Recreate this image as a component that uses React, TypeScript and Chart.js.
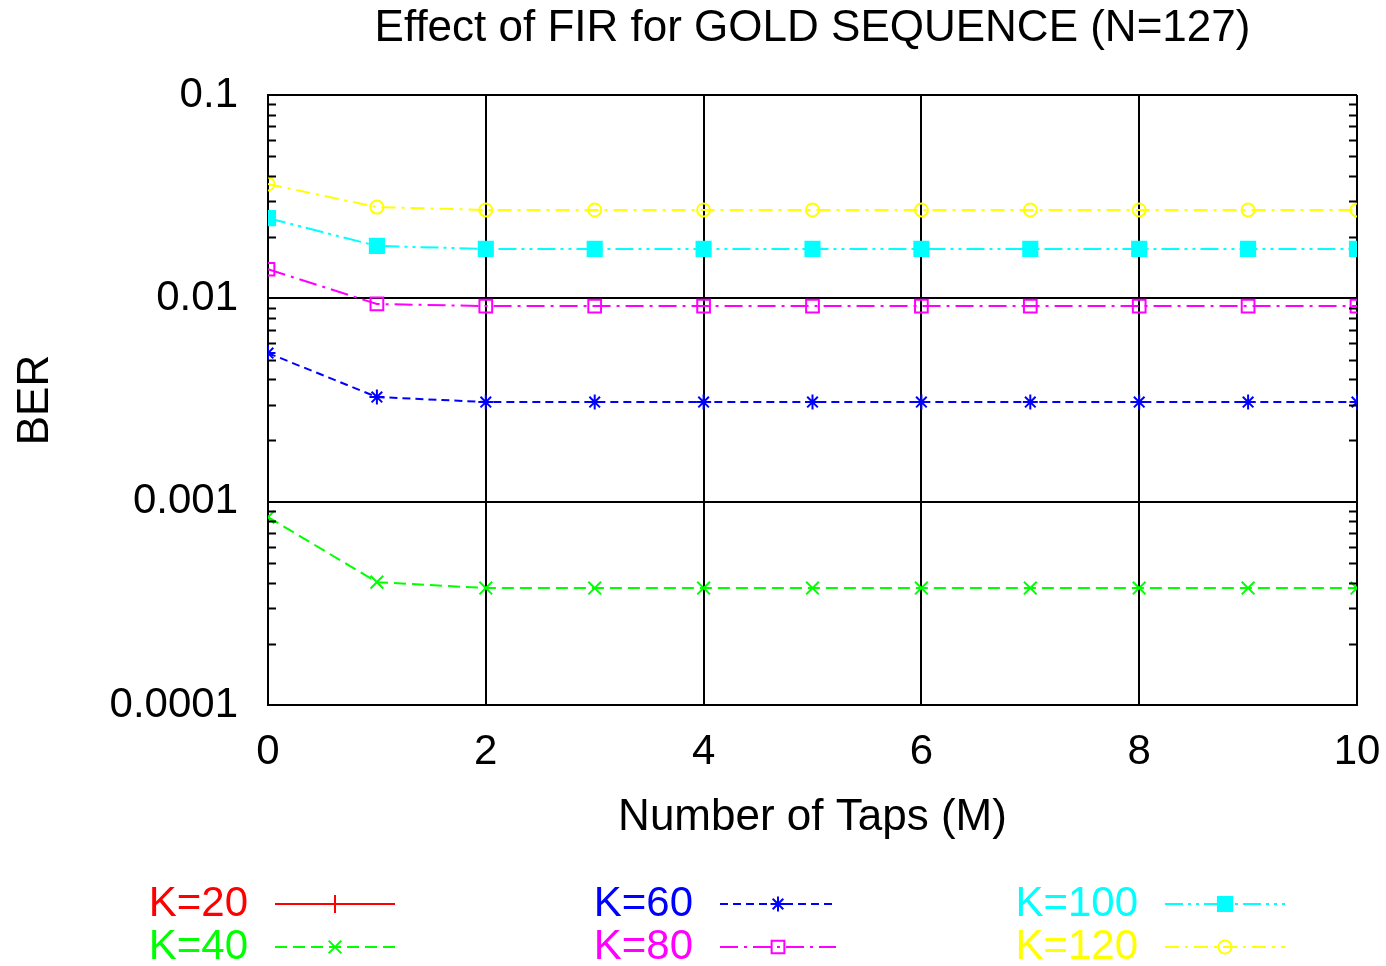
import React, { useEffect, useRef } from 'react';
import { Chart, registerables } from 'chart.js';
import { drawPoint } from 'chart.js/helpers';

Chart.register(...registerables);

const taps = [0, 1, 2, 3, 4, 5, 6, 7, 8, 9, 10];
const seriesLabels = ['K=20', 'K=40', 'K=60', 'K=80', 'K=100', 'K=120'];
// K=20 falls below the plotted range (not visible in the reference)
const berK20: (number | null)[] = [null, null, null, null, null, null, null, null, null, null, null];
const berK40 = [0.00084, 0.000402, 0.000376, 0.000376, 0.000376, 0.000376, 0.000376, 0.000376, 0.000376, 0.000376, 0.000376];
const berK60 = [0.00538, 0.00327, 0.00309, 0.00309, 0.00309, 0.00309, 0.00309, 0.00309, 0.00309, 0.00309, 0.00309];
const berK80 = [0.0139, 0.00938, 0.00916, 0.00916, 0.00916, 0.00916, 0.00916, 0.00916, 0.00916, 0.00916, 0.00916];
const berK100 = [0.0248, 0.0181, 0.0175, 0.0175, 0.0175, 0.0175, 0.0175, 0.0175, 0.0175, 0.0175, 0.0175];
const berK120 = [0.0365, 0.0281, 0.0272, 0.0272, 0.0272, 0.0272, 0.0272, 0.0272, 0.0272, 0.0272, 0.0272];
const yTickValues = [0.0001, 0.001, 0.01, 0.1];
const yTickLabels = ['0.0001', '0.001', '0.01', '0.1'];
const xTickStep = 2;

const titleText = 'Effect of FIR for GOLD SEQUENCE (N=127)';
const xTitle = 'Number of Taps (M)';
const yTitle = 'BER';

const FONT = '"Liberation Sans", Arial, Helvetica, sans-serif';

const styles = [
  { color: '#ff0000', dash: [] as number[], pointStyle: 'cross', radius: 9, fill: 'rgba(0,0,0,0)' },
  { color: '#00ff00', dash: [12, 6], pointStyle: 'crossRot', radius: 9, fill: 'rgba(0,0,0,0)' },
  { color: '#0000ff', dash: [8, 5], pointStyle: 'star', radius: 7.5, fill: 'rgba(0,0,0,0)' },
  { color: '#ff00ff', dash: [18, 6, 3, 6], pointStyle: 'rect', radius: 9, fill: 'rgba(0,0,0,0)' },
  { color: '#00ffff', dash: [18, 5, 3, 5, 3, 5], pointStyle: 'rect', radius: 10, fill: '#00ffff' },
  { color: '#ffff00', dash: [14, 6, 3, 6], pointStyle: 'circle', radius: 6.5, fill: 'rgba(0,0,0,0)' },
];
const seriesData = [berK20, berK40, berK60, berK80, berK100, berK120];

const isDecade = (v: number) => Math.abs(Math.log10(v) - Math.round(Math.log10(v))) < 1e-6;

const decorPlugin = {
  id: 'decor',
  afterDraw(chart: any) {
    const ctx: CanvasRenderingContext2D = chart.ctx;
    const area = chart.chartArea;
    const ys = chart.scales.y;
    ctx.save();
    // minor log ticks on left and right
    ctx.strokeStyle = '#000';
    ctx.lineWidth = 2;
    ctx.setLineDash([]);
    for (let d = -4; d < -1; d++) {
      for (let m = 2; m <= 9; m++) {
        const py = Math.round(ys.getPixelForValue(m * Math.pow(10, d))) + 0.5;
        ctx.beginPath();
        ctx.moveTo(area.left, py);
        ctx.lineTo(area.left + 8, py);
        ctx.moveTo(area.right, py);
        ctx.lineTo(area.right - 8, py);
        ctx.stroke();
      }
    }
    // titles
    ctx.fillStyle = '#000';
    ctx.font = `44px ${FONT}`;
    ctx.textAlign = 'center';
    ctx.textBaseline = 'middle';
    ctx.fillText(titleText, (area.left + area.right) / 2, 29);
    ctx.fillText(xTitle, (area.left + area.right) / 2, 818);
    ctx.save();
    ctx.translate(36, (area.top + area.bottom) / 2);
    ctx.rotate(-Math.PI / 2);
    ctx.fillText(yTitle, 0, 0);
    ctx.restore();
    // legend
    const cols = [
      { textRight: 248, x1: 275, x2: 395 },
      { textRight: 693, x1: 720, x2: 836 },
      { textRight: 1138, x1: 1165, x2: 1285 },
    ];
    const rows = [904, 947];
    seriesLabels.forEach((lab, i) => {
      const c = cols[Math.floor(i / 2)];
      const y = rows[i % 2];
      const st = styles[i];
      ctx.font = `42px ${FONT}`;
      ctx.textAlign = 'right';
      ctx.textBaseline = 'middle';
      ctx.fillStyle = st.color;
      ctx.fillText(lab, c.textRight, y);
      ctx.strokeStyle = st.color;
      ctx.lineWidth = 2;
      ctx.setLineDash(st.dash);
      ctx.beginPath();
      ctx.moveTo(c.x1, y);
      ctx.lineTo(c.x2, y);
      ctx.stroke();
      ctx.setLineDash([]);
      ctx.fillStyle = st.fill;
      drawPoint(ctx, { pointStyle: st.pointStyle as any, radius: st.radius, rotation: 0, borderWidth: 2 }, (c.x1 + c.x2) / 2, y);
    });
    ctx.restore();
  },
};

export default function App() {
  const ref = useRef<HTMLCanvasElement>(null);
  useEffect(() => {
    document.body.style.margin = '0';
    const canvas = ref.current!;
    const chart = new Chart(canvas, {
      type: 'line',
      data: {
        labels: taps,
        datasets: seriesLabels.map((lab, i) => ({
          label: lab,
          data: taps.map((t, j) => ({ x: t, y: seriesData[i][j] as any })),
          borderColor: styles[i].color,
          backgroundColor: styles[i].fill,
          borderWidth: 2,
          borderDash: styles[i].dash,
          pointStyle: styles[i].pointStyle as any,
          pointRadius: styles[i].radius,
          pointBorderWidth: 2,
          pointBorderColor: styles[i].color,
          pointBackgroundColor: styles[i].fill,
          tension: 0,
          fill: false,
        })),
      },
      plugins: [decorPlugin],
      options: {
        animation: false,
        responsive: false,
        events: [],
        layout: { padding: { left: 0, right: 29, top: 95, bottom: 0 } },
        plugins: { legend: { display: false }, title: { display: false }, tooltip: { enabled: false } },
        scales: {
          x: {
            type: 'linear',
            min: 0,
            max: 10,
            ticks: {
              stepSize: xTickStep,
              color: '#000',
              font: { family: FONT, size: 42 },
              padding: 22,
              maxRotation: 0,
              autoSkip: false,
            },
            grid: { color: '#000', lineWidth: 2, drawTicks: false },
            border: { color: '#000', width: 2 },
            afterFit: (s: any) => {
              s.height = 966 - 705;
              s.paddingLeft = 0;
              s.paddingRight = 0;
            },
          },
          y: {
            type: 'logarithmic',
            min: 0.0001,
            max: 0.1,
            afterBuildTicks: (s: any) => {
              s.ticks = yTickValues.map((v) => ({ value: v }));
            },
            ticks: {
              color: '#000',
              font: { family: FONT, size: 42 },
              padding: 30,
              autoSkip: false,
              callback: (v: any) => {
                const idx = yTickValues.findIndex((t) => Math.abs(t - Number(v)) / t < 1e-6);
                return idx >= 0 ? yTickLabels[idx] : '';
              },
            },
            grid: {
              color: (c: any) => (c.tick && isDecade(c.tick.value) ? '#000' : 'rgba(0,0,0,0)'),
              lineWidth: 2,
              drawTicks: false,
            },
            border: { color: '#000', width: 2 },
            afterFit: (s: any) => {
              s.width = 268;
              s.paddingTop = 0;
              s.paddingBottom = 0;
            },
          },
        },
      },
    } as any);
    return () => chart.destroy();
  }, []);
  return (
    <div style={{ width: 1386, height: 966, background: '#fff' }}>
      <canvas ref={ref} width={1386} height={966} style={{ display: 'block' }} />
    </div>
  );
}
